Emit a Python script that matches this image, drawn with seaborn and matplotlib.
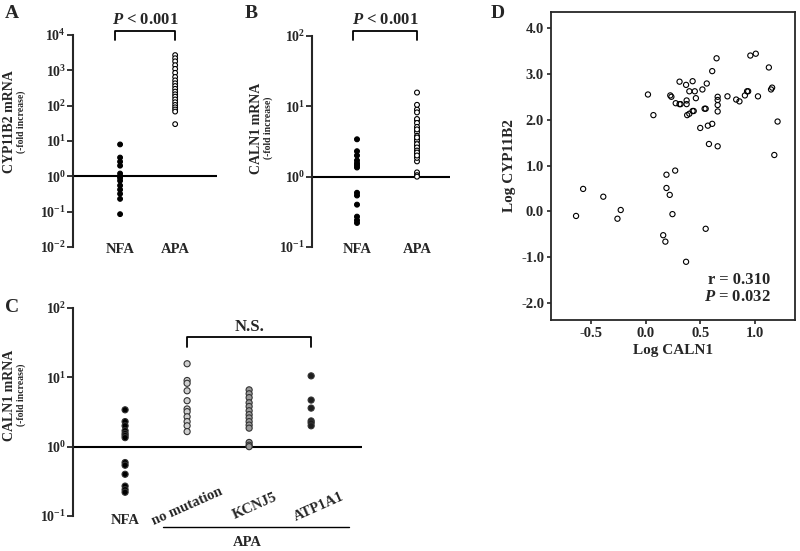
import numpy as np
import pandas as pd
import seaborn as sns
import matplotlib.pyplot as plt
from matplotlib.ticker import FixedLocator, FixedFormatter, NullLocator

# A: CYP11B2 mRNA (-fold increase)
cyp_nfa = [8.0, 3.4, 2.6, 2.0, 1.2, 1.0, 0.9, 0.75, 0.55, 0.42, 0.32, 0.23, 0.085]
cyp_apa = [2700, 2200, 1800, 1400, 1100, 850, 650, 520, 430, 360, 300, 250,
           210, 180, 150, 125, 105, 90, 78, 68, 30]

# B / C: CALN1 mRNA (-fold increase)
caln_nfa = [3.4, 2.3, 2.0, 1.7, 1.55, 1.45, 1.35, 0.59, 0.54, 0.40, 0.27, 0.24, 0.22]
caln_nomut = [15.7, 9.0, 8.2, 6.4, 4.6, 3.5, 3.2, 2.7, 2.3, 2.0, 1.65]
caln_kcnj5 = [6.6, 5.8, 5.1, 4.3, 3.8, 3.3, 2.9, 2.6, 2.3, 2.05, 1.85, 1.15, 1.05, 1.0]
caln_atp1a1 = [10.5, 4.7, 3.6, 2.35, 2.2, 2.0]
caln_apa = caln_nomut + caln_kcnj5 + caln_atp1a1

groups_ab = ['NFA', 'APA']
groups_c = ['NFA', 'no mutation', 'KCNJ5', 'ATP1A1']

# D: log CALN1 vs log CYP11B2
log_caln1 = [-0.64, -0.575, -0.39, -0.26, -0.23, 0.02, 0.07, 0.16, 0.18, 0.19, 0.19,
             0.22, 0.245, 0.27, 0.225, 0.235, 0.275, 0.31, 0.31, 0.32, 0.37, 0.375,
             0.375, 0.38, 0.40, 0.40, 0.43, 0.43, 0.44, 0.45, 0.46, 0.37, 0.50, 0.52,
             0.54, 0.55, 0.56, 0.55, 0.57, 0.58, 0.61, 0.61, 0.65, 0.66, 0.66, 0.66,
             0.66, 0.66, 0.75, 0.83, 0.86, 0.91, 0.93, 0.94, 0.96, 1.01, 1.03, 1.13,
             1.15, 1.16, 1.18, 1.21]
log_cyp11b2 = [-0.10, 0.49, 0.32, -0.16, 0.03, 2.55, 2.10, -0.52, -0.66, 0.80, 0.51,
               0.36, -0.06, 0.89, 2.53, 2.50, 2.36, 2.83, 2.34, 2.34, 2.76, 2.42,
               2.34, 2.10, 2.13, 2.62, 2.84, 2.19, 2.19, 2.62, 2.47, -1.10, 1.82, 2.66,
               2.24, 2.24, 2.79, -0.38, 1.87, 1.47, 1.91, 3.06, 3.34, 2.50, 2.43, 2.32,
               2.18, 1.42, 2.51, 2.44, 2.40, 2.53, 2.62, 2.62, 3.40, 3.44, 2.51, 3.14,
               2.66, 2.70, 1.23, 1.96]

sns.set_style('ticks')
plt.rcParams['font.family'] = ['Liberation Serif', 'DejaVu Serif']
plt.rcParams['font.weight'] = 'bold'
plt.rcParams['mathtext.fontset'] = 'custom'
plt.rcParams['mathtext.rm'] = 'Liberation Serif:bold'
plt.rcParams['mathtext.bf'] = 'Liberation Serif:bold'
plt.rcParams['mathtext.it'] = 'Liberation Serif:italic:bold'
plt.rcParams['axes.unicode_minus'] = False

fig = plt.figure(figsize=(8, 5.51), dpi=100)
W, H = 800, 551


def add_ax(x0, y0, x1, y1):
    return fig.add_axes([x0 / W, 1 - y1 / H, (x1 - x0) / W, (y1 - y0) / H])


def decade_labels(lo, hi):
    return [r'$\mathbf{10^{%d}}$' % e for e in range(lo, hi + 1)]


def strip_panel(ax, df, order, palette, size, edge, lo, hi, xlim):
    sns.stripplot(data=df, x='group', y='value', hue='group', order=order,
                  hue_order=order, palette=palette, jitter=False, size=size,
                  edgecolor=edge, linewidth=0.8, legend=False, log_scale=True,
                  ax=ax, zorder=3)
    ax.axhline(1, color='black', lw=1.5, zorder=2)
    ax.set_xlim(*xlim)
    ax.set_ylim(10.0 ** lo, 10.0 ** hi)
    ax.yaxis.set_major_locator(FixedLocator([10.0 ** e for e in range(lo, hi + 1)]))
    ax.yaxis.set_major_formatter(FixedFormatter(decade_labels(lo, hi)))
    ax.yaxis.set_minor_locator(NullLocator())
    for s in ['top', 'right', 'bottom']:
        ax.spines[s].set_visible(False)
    ax.spines['left'].set_linewidth(1.5)
    ax.tick_params(axis='y', length=4, width=1.3, pad=1, labelsize=10)
    ax.tick_params(axis='x', length=0, pad=-3, labelsize=10.5)
    ax.set_xlabel('')
    ax.set_ylabel('')
    ax.set_facecolor('none')


def bracket(ax, x0, x1, ytop, ybot, label, ty):
    tr = ax.get_xaxis_transform()
    ax.plot([x0, x0, x1, x1], [ybot, ytop, ytop, ybot], color='black', lw=1.3,
            transform=tr, clip_on=False)
    ax.text((x0 + x1) / 2, ty, label, transform=tr, ha='center', va='center',
            fontsize=12, fontweight='bold')


# ---- A
df_a = pd.DataFrame({'group': ['NFA'] * len(cyp_nfa) + ['APA'] * len(cyp_apa),
                     'value': cyp_nfa + cyp_apa})
ax_a = add_ax(73, 35, 217, 247)
strip_panel(ax_a, df_a, groups_ab, {'NFA': 'black', 'APA': 'white'}, 3.4, 'black',
            -2, 4, (-0.855, 1.76))
bracket(ax_a, -0.1, 1.0, 1.019, 0.976, r'$\mathit{P}$ < 0.001', 1.071)

# ---- B
df_b = pd.DataFrame({'group': ['NFA'] * len(caln_nfa) + ['APA'] * len(caln_apa),
                     'value': caln_nfa + caln_apa})
ax_b = add_ax(312, 36, 450, 247)
strip_panel(ax_b, df_b, groups_ab, {'NFA': 'black', 'APA': 'white'}, 3.5, 'black',
            -1, 2, (-0.75, 1.55))
bracket(ax_b, -0.07, 1.0, 1.024, 0.98, r'$\mathit{P}$ < 0.001', 1.076)

# ---- C
vals_c = [caln_nfa, caln_nomut, caln_kcnj5, caln_atp1a1]
df_c = pd.DataFrame({'group': [g for g, v in zip(groups_c, vals_c) for _ in v],
                     'value': [x for v in vals_c for x in v]})
ax_c = add_ax(73, 308, 362, 516)
strip_panel(ax_c, df_c, groups_c,
            {'NFA': 'black', 'no mutation': '#cfcfcf', 'KCNJ5': '#9a9a9a',
             'ATP1A1': '#1e1e1e'}, 4.4, '#333333', -1, 2, (-0.84, 3.82))
ax_c.set_xticklabels([])
trc = ax_c.get_xaxis_transform()
ax_c.text(0, -0.02, 'NFA', transform=trc, ha='center', va='center', fontsize=10.5)
for xpos, lab in zip([1.0, 2.1, 3.13], groups_c[1:]):
    ax_c.text(xpos, 0.045, lab, transform=trc, ha='center', va='center',
              rotation=24, fontsize=10.5)
ax_c.plot([0.61, 3.61], [-0.053, -0.053], color='black', lw=1.0, transform=trc,
          clip_on=False)
ax_c.text(1.97, -0.125, 'APA', transform=trc, ha='center', va='center',
          fontsize=10.5)
bracket(ax_c, 1.0, 3.0, 0.861, 0.8125, 'N.S.', 0.909)

# y labels for the strip panels
for (lx, ly), big in [((10, 122), 'CYP11B2 mRNA'), ((257, 128), 'CALN1 mRNA'),
                      ((10, 395), 'CALN1 mRNA')]:
    fig.text(lx / W, 1 - ly / H, big, rotation=90, ha='center', va='center',
             fontsize=10, fontweight='bold')
    fig.text((lx + 11) / W, 1 - ly / H, '(-fold increase)', rotation=90,
             ha='center', va='center', fontsize=7, fontweight='bold')

# ---- D
ax_d = add_ax(551, 12, 795, 320)
sns.scatterplot(x=log_caln1, y=log_cyp11b2, ax=ax_d, s=14, facecolor='none',
                edgecolor='black', linewidth=0.8)
ax_d.set_xlim(-0.87, 1.37)
ax_d.set_ylim(-2.37, 4.35)
ax_d.set_xticks([-0.5, 0.0, 0.5, 1.0])
ax_d.set_xticklabels(['-0.5', '0.0', '0.5', '1.0'])
ax_d.set_yticks([-2, -1, 0, 1, 2, 3, 4])
ax_d.set_yticklabels(['-2.0', '-1.0', '0.0', '1.0', '2.0', '3.0', '4.0'])
for s in ax_d.spines.values():
    s.set_linewidth(1.3)
    s.set_visible(True)
ax_d.tick_params(length=3, width=1.2, pad=2, labelsize=10.5)
ax_d.set_xlabel('Log CALN1', fontsize=11, fontweight='bold', labelpad=3)
ax_d.set_ylabel('Log CYP11B2', fontsize=11, fontweight='bold', labelpad=4)
ax_d.text(0.9, 0.13, 'r = 0.310', transform=ax_d.transAxes, ha='right',
          va='center', fontsize=12, fontweight='bold')
ax_d.text(0.9, 0.075, r'$\mathit{P}$ = 0.032', transform=ax_d.transAxes,
          ha='right', va='center', fontsize=12, fontweight='bold')

# panel letters
for lab, (px, py) in zip('ABCD', [(12, 13), (251, 13), (12, 307), (498, 13)]):
    fig.text(px / W, 1 - py / H, lab, ha='center', va='center', fontsize=14,
             fontweight='bold')

fig.savefig('out.png', dpi=100)
